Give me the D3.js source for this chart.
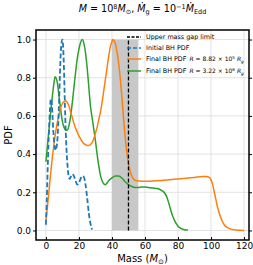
<!DOCTYPE html>
<html>
<head>
<meta charset="utf-8">
<style>
body { margin: 0; background: #fff; }
text { font-family: "DejaVu Sans", sans-serif; }
.grid line { stroke: #dcdcdc; stroke-width: 0.8; }
</style>
<script src="https://d3js.org/d3.v7.min.js"></script>
</head>
<body>
<div id="chart"></div>
<script>
// initial BH mass distribution
var initialMass = [0,0.5,1,1.5,2,2.5,3,3.5,4,4.5,5,5.5,6,6.5,7,7.5,8,8.5,9,9.5,10,10.5,11,11.5,12,12.5,13,13.5,14,14.5,15,16,17,18,19,20,21,22,23,24,25,26,27,28];
var initialPdf  = [0.03,0.15,0.3,0.44,0.55,0.64,0.69,0.67,0.6,0.52,0.46,0.43,0.42,0.44,0.48,0.56,0.68,0.82,0.93,0.985,1.0,0.95,0.83,0.66,0.52,0.42,0.35,0.3,0.275,0.27,0.28,0.295,0.285,0.26,0.24,0.25,0.27,0.285,0.28,0.24,0.17,0.09,0.035,0.005];

// final BH, R = 8.82e5 Rg
var finalAMass = [0,1,2,3,4,5,6,7,8,9,10,11,12,13,14,15,16,17,18,19,20,21,22,23,24,25,26,27,28,29,30,31,32,33,34,35,36,37,38,39,40,40.5,41,42,43,44,45,46,47,48,49,50,51,52,53,55,58,62,66,70,75,80,85,90,95,97,99,100,101,102,103,104,105,106,107,108,110,112,115,120];
var finalAPdf  = [0.05,0.13,0.22,0.31,0.39,0.46,0.52,0.57,0.61,0.645,0.665,0.675,0.68,0.67,0.65,0.62,0.59,0.56,0.535,0.515,0.495,0.48,0.465,0.455,0.45,0.445,0.445,0.45,0.46,0.48,0.51,0.54,0.58,0.62,0.67,0.73,0.79,0.85,0.91,0.96,0.99,1.0,0.997,0.98,0.94,0.88,0.8,0.7,0.59,0.49,0.41,0.35,0.31,0.285,0.27,0.26,0.258,0.258,0.26,0.262,0.266,0.27,0.274,0.278,0.282,0.283,0.278,0.265,0.24,0.2,0.16,0.12,0.09,0.065,0.045,0.03,0.015,0.007,0.002,0.0];

// final BH, R = 3.22e6 Rg
var finalBMass = [0,1,2,3,4,5,5.6,6.5,7,8,9,10,11,12,13,14,15,16,17,18,19,20,21,22,23,24,25,26,27,28,29,30,31,32,33,34,35,36,38,40,42,44,46,48,50,52,54,56,58,60,62,65,68,70,72,73,74,75,76,77,78,79,80,82,84,86];
var finalBPdf  = [0.36,0.45,0.54,0.63,0.71,0.78,0.805,0.79,0.77,0.7,0.63,0.57,0.54,0.525,0.525,0.55,0.6,0.67,0.75,0.83,0.9,0.95,0.985,1.0,0.98,0.93,0.85,0.75,0.65,0.59,0.53,0.47,0.4,0.34,0.29,0.26,0.245,0.24,0.26,0.275,0.285,0.285,0.275,0.255,0.24,0.23,0.225,0.225,0.228,0.228,0.225,0.222,0.218,0.21,0.195,0.18,0.155,0.125,0.095,0.07,0.05,0.035,0.022,0.01,0.004,0.002];

var gapLow = 40, gapHigh = 56, gapLimit = 50;
var xTicks = [0,20,40,60,80,100,120];
var yTicks = [0,0.2,0.4,0.6,0.8,1.0];

var W = 253, H = 265;
var pLeft = 36, pRight = 249, pTop = 30, pBottom = 240;

var x = d3.scaleLinear().domain([-6, 123]).range([pLeft, pRight]);
var y = d3.scaleLinear().domain([-0.05, 1.05]).range([pBottom, pTop]);

var svg = d3.select('#chart').append('svg')
	.attr('width', W)
	.attr('height', H);

svg.append('defs').append('clipPath').attr('id', 'clip')
	.append('rect').attr('x', pLeft).attr('y', pTop).attr('width', pRight - pLeft).attr('height', pBottom - pTop);

// grid
var grid = svg.append('g').attr('class', 'grid');
grid.selectAll('.gx').data(xTicks).enter().append('line')
	.attr('x1', function(d) { return x(d); }).attr('x2', function(d) { return x(d); })
	.attr('y1', pTop).attr('y2', pBottom);
grid.selectAll('.gy').data(yTicks).enter().append('line')
	.attr('y1', function(d) { return y(d); }).attr('y2', function(d) { return y(d); })
	.attr('x1', pLeft).attr('x2', pRight);

var plot = svg.append('g').attr('clip-path', 'url(#clip)');

// upper mass gap band
plot.append('rect')
	.attr('x', x(gapLow)).attr('width', x(gapHigh) - x(gapLow))
	.attr('y', y(1)).attr('height', y(0) - y(1))
	.attr('fill', '#c8c8c8');

var line = d3.line()
	.x(function(d) { return x(d[0]); })
	.y(function(d) { return y(d[1]); })
	.curve(d3.curveMonotoneX);

function pairs(a, b) { return a.map(function(m, i) { return [m, b[i]]; }); }

plot.append('path').datum(pairs(finalBMass, finalBPdf))
	.attr('d', line).attr('fill', 'none').attr('stroke', '#2ca02c').attr('stroke-width', 1.5);
plot.append('path').datum(pairs(finalAMass, finalAPdf))
	.attr('d', line).attr('fill', 'none').attr('stroke', '#ff7f0e').attr('stroke-width', 1.5);
plot.append('path').datum(pairs(initialMass, initialPdf))
	.attr('d', line).attr('fill', 'none').attr('stroke', '#1f77b4').attr('stroke-width', 1.8)
	.attr('stroke-dasharray', '5,2.5');

plot.append('line')
	.attr('x1', x(gapLimit)).attr('x2', x(gapLimit))
	.attr('y1', y(0)).attr('y2', y(1))
	.attr('stroke', '#000').attr('stroke-width', 1.3).attr('stroke-dasharray', '4,2');

// axes
svg.append('g')
	.attr('transform', 'translate(0,' + pBottom + ')')
	.call(d3.axisBottom(x).tickValues(xTicks).tickFormat(d3.format('d')).tickSize(-3).tickPadding(3))
	.call(function(g) { g.select('.domain').remove(); g.selectAll('text').attr('font-size', 9).attr('fill', '#000'); });

svg.append('g')
	.attr('transform', 'translate(' + pLeft + ',0)')
	.call(d3.axisLeft(y).tickValues(yTicks).tickFormat(d3.format('.1f')).tickSize(3).tickPadding(2))
	.call(function(g) { g.select('.domain').remove(); g.selectAll('text').attr('font-size', 9).attr('fill', '#000'); });

svg.append('g')
	.attr('transform', 'translate(' + pRight + ',0)')
	.call(d3.axisLeft(y).tickValues(yTicks).tickFormat('').tickSize(-3))
	.call(function(g) { g.select('.domain').remove(); });

svg.append('rect')
	.attr('x', pLeft).attr('y', pTop).attr('width', pRight - pLeft).attr('height', pBottom - pTop)
	.attr('fill', 'none').attr('stroke', '#000').attr('stroke-width', 1.5);

// labels
svg.append('text')
	.attr('x', 9).attr('y', (pTop + pBottom) / 2)
	.attr('transform', 'rotate(-90,9,' + ((pTop + pBottom) / 2) + ')')
	.attr('text-anchor', 'middle').attr('dominant-baseline', 'middle')
	.attr('font-size', 10).text('PDF');

var xl = svg.append('text')
	.attr('x', (pLeft + pRight) / 2).attr('y', 262)
	.attr('text-anchor', 'middle').attr('font-size', 10);
xl.append('tspan').text('Mass (');
xl.append('tspan').attr('font-style', 'italic').text('M');
xl.append('tspan').attr('font-size', 7).attr('dy', 2).text('⊙');
xl.append('tspan').attr('dy', -2).text(')');

var tt = svg.append('text')
	.attr('x', (pLeft + pRight) / 2).attr('y', 12)
	.attr('text-anchor', 'middle').attr('font-size', 9.6);
tt.append('tspan').attr('font-style', 'italic').text('M');
tt.append('tspan').text(' = 10');
tt.append('tspan').attr('font-size', 6.5).attr('dy', -3.5).text('8');
tt.append('tspan').attr('font-style', 'italic').attr('dy', 3.5).text('M');
tt.append('tspan').attr('font-size', 6.5).attr('dy', 1.5).text('⊙');
tt.append('tspan').attr('dy', -1.5).text(', ');
tt.append('tspan').attr('font-style', 'italic').text('Ṁ');
tt.append('tspan').attr('font-size', 6.5).attr('dy', 1.5).text('g');
tt.append('tspan').attr('dy', -1.5).text(' = 10');
tt.append('tspan').attr('font-size', 6.5).attr('dy', -3.5).text('−1');
tt.append('tspan').attr('font-style', 'italic').attr('dy', 3.5).text('Ṁ');
tt.append('tspan').attr('font-size', 6.5).attr('dy', 1.5).text('Edd');

// legend
var legendRows = [
	{ color: '#000', dash: '3,1.5', width: 1.3, label: 'Upper mass gap limit' },
	{ color: '#1f77b4', dash: '4,2', width: 1.5, label: 'Initial BH PDF' },
	{ color: '#ff7f0e', dash: null, width: 1.5, label: 'Final BH PDF', r: '8.82', e: '5' },
	{ color: '#2ca02c', dash: null, width: 1.5, label: 'Final BH PDF', r: '3.22', e: '6' }
];
var legendY = [37, 48, 59, 71];
var lg = svg.append('g');
legendRows.forEach(function(d, i) {
	var yy = legendY[i];
	lg.append('line')
		.attr('x1', 127).attr('x2', 141).attr('y1', yy).attr('y2', yy)
		.attr('stroke', d.color).attr('stroke-width', d.width)
		.attr('stroke-dasharray', d.dash);
	var t = lg.append('text').attr('x', 146).attr('y', yy + 2.2).attr('font-size', 6.4);
	t.append('tspan').text(d.label);
	if (d.r) {
		t.append('tspan').attr('font-size', 6).attr('dx', 3).attr('font-style', 'italic').text('R');
		t.append('tspan').attr('font-size', 6).text(' = ' + d.r + ' × 10');
		t.append('tspan').attr('font-size', 4.2).attr('dy', -2.6).text(d.e);
		t.append('tspan').attr('font-size', 6).attr('font-style', 'italic').attr('dy', 2.6).text(' R');
		t.append('tspan').attr('font-size', 4.2).attr('font-style', 'italic').attr('dy', 1.3).text('g');
	}
});
</script>
</body>
</html>
